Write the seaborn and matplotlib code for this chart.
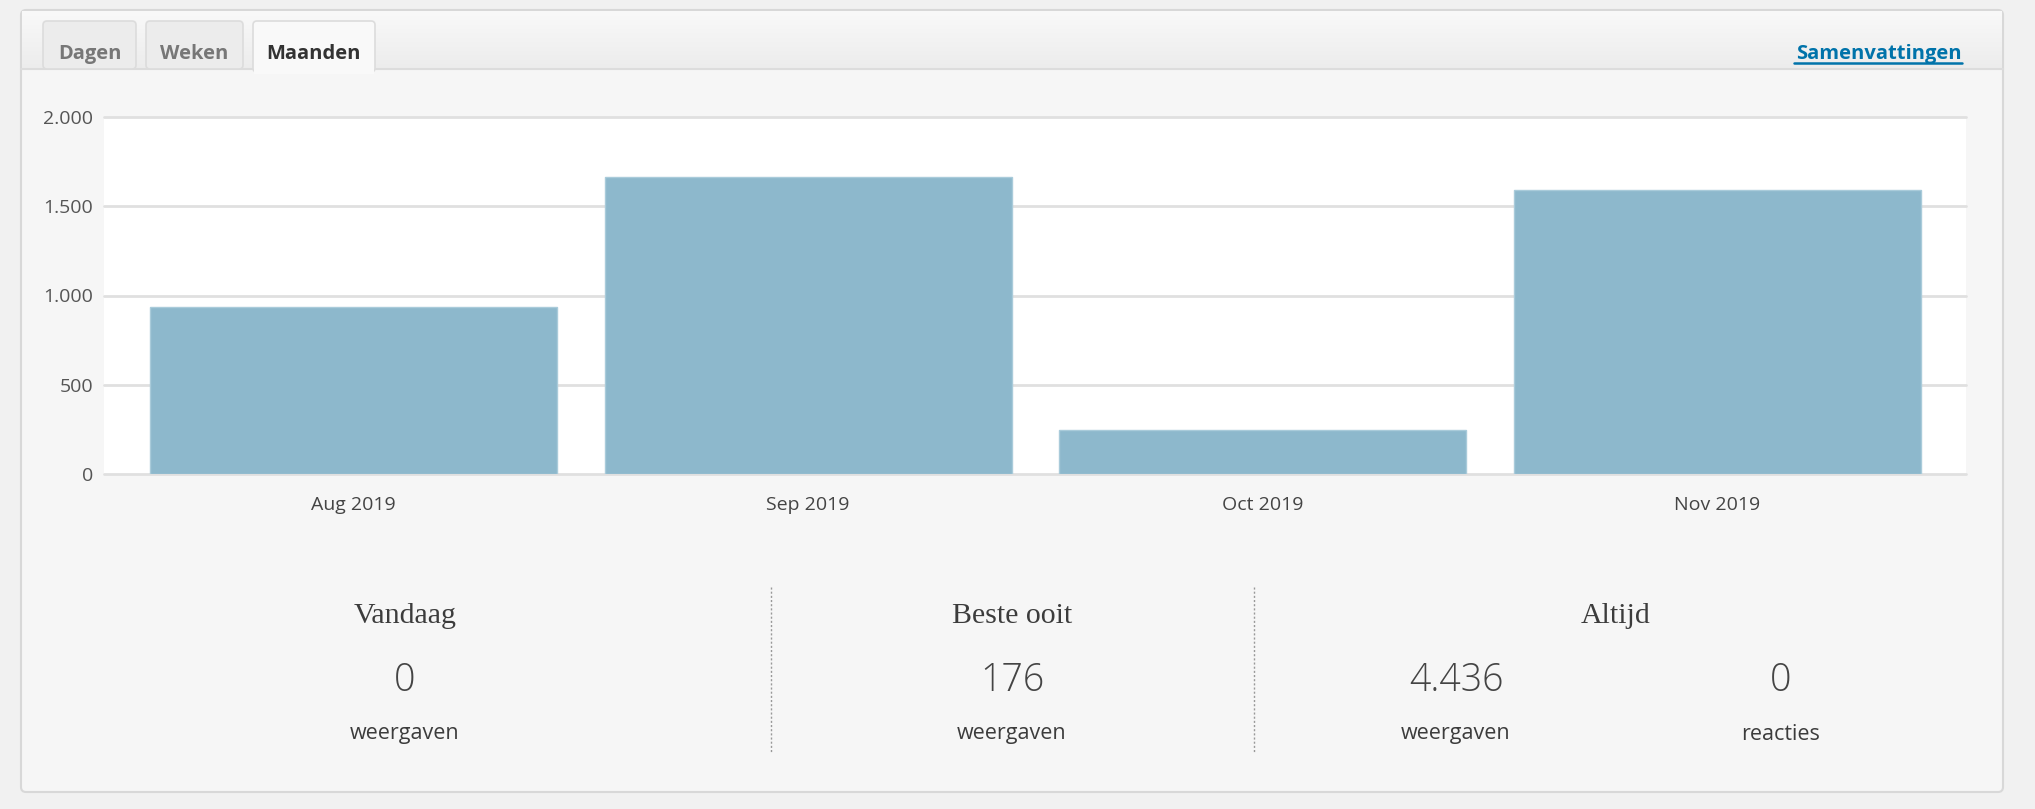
import matplotlib
matplotlib.use("Agg")
import matplotlib.pyplot as plt
import seaborn as sns
import numpy as np
from matplotlib.patches import FancyBboxPatch, Rectangle
from matplotlib.ticker import FuncFormatter

# data
months = ["Aug 2019", "Sep 2019", "Oct 2019", "Nov 2019"]
views = [938, 1662, 244, 1592]
y_ticks = [0, 500, 1000, 1500, 2000]
tabs = ["Dagen", "Weken", "Maanden"]
active_tab = "Maanden"
stat_titles = ["Vandaag", "Beste ooit", "Altijd"]
stat_values = ["0", "176", "4.436", "0"]
stat_units = ["weergaven", "weergaven", "weergaven", "reacties"]

W, H = 2035, 809
BAR = "#8db8cc"
TEXT = "#3c3c3c"

sns.set_theme(style="whitegrid")
plt.rcParams["font.family"] = ["Open Sans", "DejaVu Sans"]

fig = plt.figure(figsize=(W / 100, H / 100), dpi=100, facecolor="#f1f1f1")

# background layer in pixel coordinates
bg = fig.add_axes([0, 0, 1, 1], zorder=0)
bg.set_xlim(0, W)
bg.set_ylim(H, 0)
bg.axis("off")

bg.add_patch(FancyBboxPatch((21, 10), 1982, 782, boxstyle="round,pad=0,rounding_size=5",
                            facecolor="#f6f6f6", edgecolor="#d8d8d8", lw=1.5))
grad = np.linspace(0, 1, 60).reshape(-1, 1)
bg.imshow(grad, extent=[22, 2002, 69, 11], cmap=matplotlib.colors.LinearSegmentedColormap.from_list(
    "hdr", ["#f9f9f9", "#ececec"]), aspect="auto", zorder=1)
bg.plot([21, 2003], [69, 69], color="#dcdcdc", lw=1.5, zorder=2)

tab_x = [(43, 136), (146, 243), (253, 375)]
for name, (x0, x1) in zip(tabs, tab_x):
    active = name == active_tab
    y1 = 72 if active else 69
    bg.add_patch(FancyBboxPatch((x0, 21), x1 - x0, y1 - 21, boxstyle="round,pad=0,rounding_size=4",
                                facecolor="#f9f9f9" if active else "#ececec",
                                edgecolor="#dcdcdc", lw=1.2, zorder=3))
    if active:
        bg.add_patch(Rectangle((x0 + 1, 66), x1 - x0 - 2, 8, facecolor="#f9f9f9", lw=0, zorder=4))
    bg.text((x0 + x1) / 2, 54, name, ha="center", va="center", fontsize=14.5, fontweight="bold",
            color="#333333" if active else "#777777", zorder=5)

bg.text(1962, 54, "Samenvattingen", ha="right", va="center", fontsize=14.5, fontweight="bold",
        color="#0073aa", zorder=5)
bg.plot([1794, 1962], [63, 63], color="#0073aa", lw=1.8, zorder=5)

# stats block
for xs in (771, 1254):
    bg.plot([xs, xs], [587, 753], color="#999999", lw=1, ls=(0, (1.5, 1.5)), zorder=2)

title_x = [405, 1012, 1616]
for t, x in zip(stat_titles, title_x):
    bg.text(x, 616, t, ha="center", va="center", fontsize=21.5, family="Liberation Serif", color=TEXT)

value_x = [405, 1012, 1456, 1781]
for v, u, x in zip(stat_values, stat_units, value_x):
    bg.text(x, 681, v, ha="center", va="center", fontsize=27, fontweight="light", color="#444444")
    bg.text(x, 734, u, ha="center", va="center", fontsize=15.5, color=TEXT)

# chart
ax = fig.add_axes([104 / W, 1 - 474 / H, 1862 / W, 357 / H], zorder=2)
sns.barplot(x=months, y=views, color=BAR, saturation=1, width=0.896, ax=ax,
            edgecolor="#a9cbda", linewidth=1)
ax.set_facecolor("white")
ax.set_xlim(-0.549, 3.547)
ax.set_ylim(0, 2000)
ax.set_yticks(y_ticks)
ax.yaxis.set_major_formatter(FuncFormatter(lambda v, p: f"{int(v):,}".replace(",", ".")))
ax.grid(axis="y", color="#e0e0e0", lw=2)
ax.grid(axis="x", visible=False)
ax.set_axisbelow(True)
for line in ax.get_ygridlines():
    line.set_clip_on(False)
for s in ax.spines.values():
    s.set_visible(False)
ax.tick_params(axis="y", length=0, pad=8, labelsize=14, labelcolor="#555555")
ax.tick_params(axis="x", length=0, pad=16, labelsize=14, labelcolor="#444444")
ax.set_xlabel("")
ax.set_ylabel("")

fig.savefig("out.png", dpi=100, facecolor=fig.get_facecolor())
